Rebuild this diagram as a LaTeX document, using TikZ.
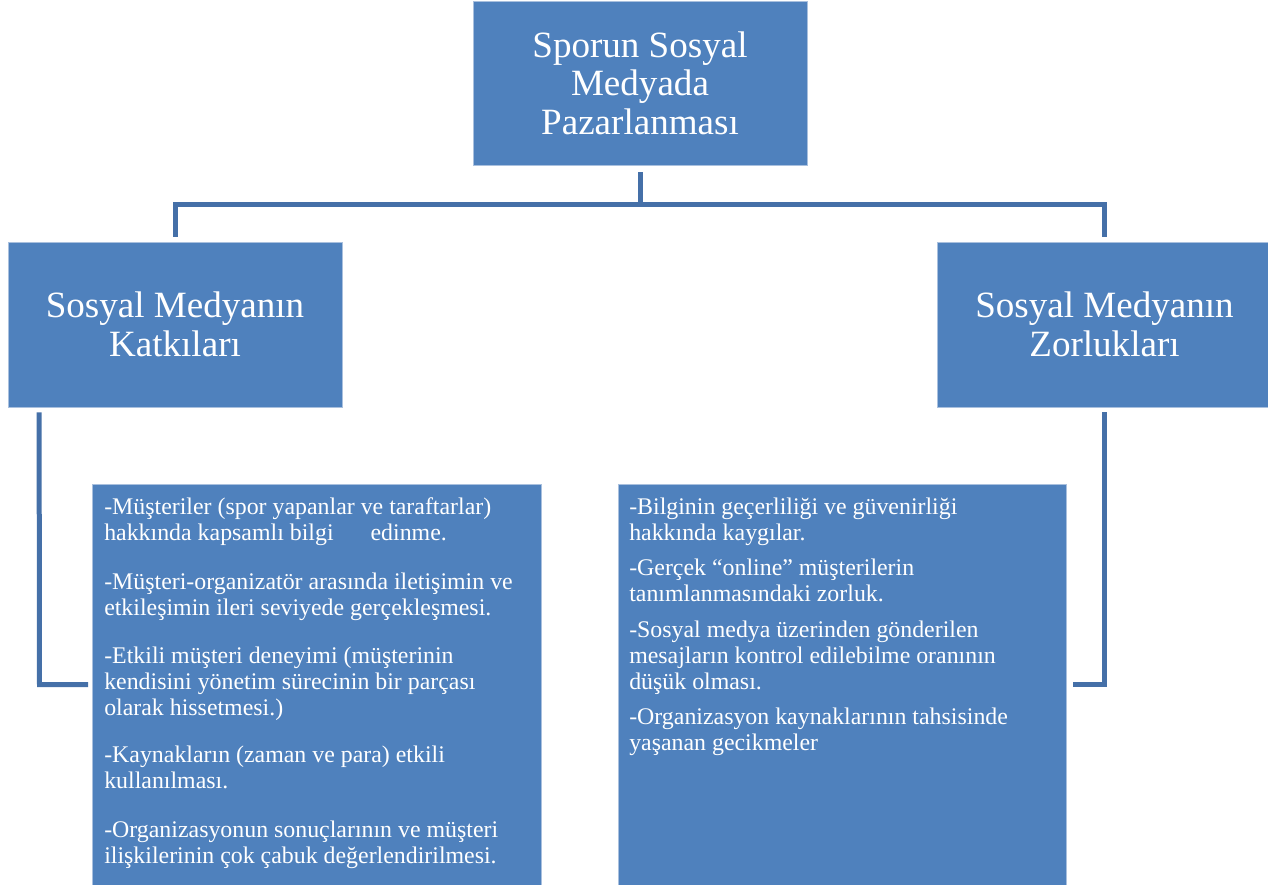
\documentclass[tikz,border=0pt]{standalone}
\usepackage{fontspec}
\setmainfont{Liberation Serif}
\usetikzlibrary{calc}
\definecolor{boxblue}{HTML}{4F81BD}
\definecolor{boxedge}{HTML}{A9C0DE}
\definecolor{linkblue}{HTML}{4570A8}
\tikzset{
  box/.style={fill=boxblue, draw=boxedge, line width=0.6pt, text=white, inner sep=0pt},
  titlebox/.style={box, align=center, font=\fontsize{27.8pt}{29pt}\selectfont},
  bodytext/.style={text=white, align=left, inner sep=0pt, anchor=north west, font=\fontsize{17.9pt}{19.5pt}\selectfont},
  link/.style={draw=linkblue, line width=3.75pt}
}
\begin{document}
\begin{tikzpicture}[x=0.75pt, y=-0.75pt]
\useasboundingbox (0,0) rectangle (1268,885);
\clip (0,0) rectangle (1268,885);

% title boxes
\node[titlebox, minimum width={334*0.75pt}, minimum height={164*0.75pt}] (top) at (640,83)
  {Sporun Sosyal\\Medyada\\Pazarlanması};
\node[titlebox, minimum width={334*0.75pt}, minimum height={165*0.75pt}] (left) at (175,324.5)
  {Sosyal Medyanın\\Katkıları};
\node[titlebox, minimum width={335*0.75pt}, minimum height={165*0.75pt}] (right) at (1104.5,324.5)
  {Sosyal Medyanın\\Zorlukları};

% content boxes
\node[box, minimum width={449*0.75pt}, minimum height={410*0.75pt}, anchor=north west] (lbox) at (92,484) {};
\node[box, minimum width={448*0.75pt}, minimum height={410*0.75pt}, anchor=north west] (rbox) at (618,484) {};

\node[bodytext] (ltext) at ($(lbox.north west)+(12,13.5)$) {%
-Müşteriler (spor yapanlar ve taraftarlar)\\
hakkında kapsamlı bilgi\hspace{1.55em}edinme.\\[17pt]
-Müşteri-organizatör arasında iletişimin ve\\
etkileşimin ileri seviyede gerçekleşmesi.\\[17pt]
-Etkili müşteri deneyimi (müşterinin\\
kendisini yönetim sürecinin bir parçası\\
olarak hissetmesi.)\\[15.5pt]
-Kaynakların (zaman ve para) etkili\\
kullanılması.\\[17pt]
-Organizasyonun sonuçlarının ve müşteri\\
ilişkilerinin çok çabuk değerlendirilmesi.};

\node[bodytext] (rtext) at ($(rbox.north west)+(11,13.5)$) {%
-Bilginin geçerliliği ve güvenirliği\\
hakkında kaygılar.\\[7pt]
-Gerçek “online” müşterilerin\\
tanımlanmasındaki zorluk.\\[7pt]
-Sosyal medya üzerinden gönderilen\\
mesajların kontrol edilebilme oranının\\
düşük olması.\\[7pt]
-Organizasyon kaynaklarının tahsisinde\\
yaşanan gecikmeler};

% connectors
\coordinate (bus) at (640,204);
\draw[link] ($(top.south)+(0,7)$) -- (bus);
\draw[link] ($(left.north)+(0,-5)$) |- (bus) -| ($(right.north)+(0,-5)$);

\coordinate (lcorner) at (39.5,684.5);
\draw[link] ($(left.south west)+(31.5,5)$) -- (lcorner) -- ($(lbox.west|-lcorner)+(-4,0)$);
\coordinate (rcorner) at (1104.5,684.5);
\draw[link] ($(right.south)+(0,5)$) -- (rcorner) -- ($(rbox.east|-rcorner)+(6,0)$);
\end{tikzpicture}
\end{document}
